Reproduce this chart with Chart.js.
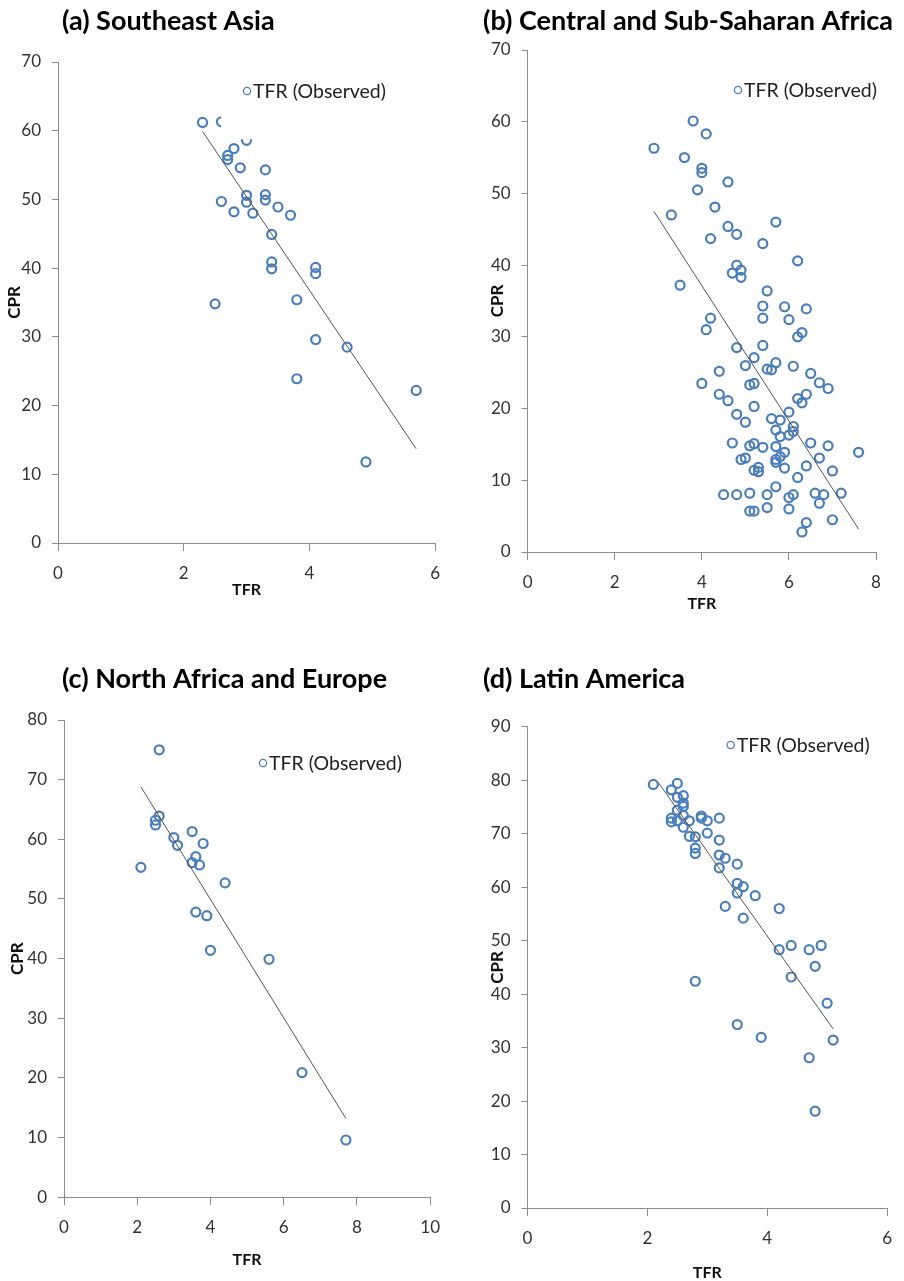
<!DOCTYPE html>
<html>
<head>
<meta charset="utf-8">
<script src="https://cdn.jsdelivr.net/npm/chart.js@4.4.1/dist/chart.umd.min.js"></script>
<style>
  html, body { margin: 0; padding: 0; background: #fff; }
  .panel { position: absolute; }
</style>
</head>
<body>
<div class="panel" style="left:0;top:0"><canvas id="c-a" width="452" height="640"></canvas></div>
<div class="panel" style="left:452px;top:0"><canvas id="c-b" width="452" height="640"></canvas></div>
<div class="panel" style="left:0;top:640px"><canvas id="c-c" width="452" height="641"></canvas></div>
<div class="panel" style="left:452px;top:640px"><canvas id="c-d" width="452" height="641"></canvas></div>
<script>
// (a) Southeast Asia
const seaTFR = [2.3,2.6,3.0,2.7,2.7,2.8,2.9,3.3,3.0,3.0,2.6,2.8,3.1,3.3,3.3,3.5,3.7,3.4,3.4,3.4,4.1,4.1,2.5,3.8,4.1,4.6,3.8,5.7,4.9];
const seaCPR = [61.2,61.3,58.6,56.4,55.8,57.4,54.6,54.3,50.6,49.6,49.7,48.2,48.0,50.7,49.9,48.9,47.7,44.9,40.9,39.9,40.1,39.2,34.8,35.4,29.6,28.5,23.9,22.2,11.8];
const seaFitTFR = [2.3, 5.7];
const seaFitCPR = [59.9, 13.7];

// (b) Central and Sub-Saharan Africa
const afrTFR = [2.9,3.8,4.1,3.6,4.0,4.0,3.9,4.6,3.3,4.3,4.6,4.8,5.7,4.2,5.4,6.2,4.8,4.7,4.9,4.9,
  3.5,5.5,5.4,5.9,6.4,5.4,6.0,4.2,4.1,6.2,6.3,4.8,5.4,5.2,5.0,5.7,5.5,5.6,6.1,6.5,
  4.4,6.7,6.9,4.0,5.1,5.2,4.4,4.6,6.2,6.3,6.4,5.2,4.8,5.0,6.0,5.6,5.8,5.7,6.1,6.1,
  6.0,5.8,4.7,5.1,5.2,5.4,5.7,6.5,6.9,7.6,4.9,5.0,5.7,5.7,5.8,5.9,6.7,5.2,5.3,5.3,
  5.9,6.4,7.0,6.2,5.7,4.5,4.8,5.1,5.5,6.0,6.1,6.6,6.8,6.7,7.2,5.1,5.2,5.5,6.0,7.0,6.4,6.3];
const afrCPR = [56.3,60.1,58.3,55.0,53.5,52.9,50.5,51.6,47.0,48.1,45.4,44.3,46.0,43.7,43.0,40.6,40.0,38.9,39.3,38.3,
  37.2,36.4,34.3,34.2,33.9,32.6,32.4,32.6,31.0,30.0,30.6,28.5,28.8,27.1,26.0,26.4,25.5,25.4,25.9,24.9,
  25.2,23.6,22.8,23.5,23.3,23.5,22.0,21.1,21.4,20.8,22.0,20.3,19.2,18.1,19.5,18.6,18.4,17.0,17.5,16.8,
  16.3,16.1,15.2,14.8,15.1,14.6,14.7,15.2,14.8,13.9,12.9,13.1,12.5,12.9,13.3,13.9,13.1,11.4,11.8,11.2,
  11.7,12.0,11.3,10.4,9.1,8.0,8.0,8.2,8.0,7.6,8.0,8.2,8.0,6.8,8.2,5.7,5.7,6.2,6.0,4.5,4.1,2.8];
const afrFitTFR = [2.9, 7.6];
const afrFitCPR = [47.5, 3.2];

// (c) North Africa and Europe
const eurTFR = [2.6,2.1,2.5,2.5,2.6,3.0,3.1,3.5,3.8,3.6,3.5,3.7,4.4,3.6,3.9,4.0,5.6,6.5,7.7];
const eurCPR = [75.0,55.3,63.2,62.4,63.9,60.3,59.0,61.3,59.3,57.1,56.1,55.7,52.7,47.8,47.2,41.4,39.9,20.9,9.6];
const eurFitTFR = [2.1, 7.7];
const eurFitCPR = [68.8, 13.2];

// (d) Latin America
const latTFR = [2.1,2.4,2.5,2.5,2.6,2.6,2.6,2.5,2.4,2.4,2.5,2.6,2.6,2.7,2.9,2.9,3.0,3.2,2.7,2.8,
  3.0,2.8,2.8,3.2,3.2,3.3,3.2,3.5,3.5,3.5,3.6,3.6,3.3,3.8,4.2,4.2,4.4,4.7,4.9,4.8,
  4.4,2.8,5.0,3.5,3.9,5.1,4.7,4.8];
const latCPR = [79.2,78.2,79.4,76.8,77.1,75.7,75.1,74.4,72.9,72.2,72.4,73.4,71.2,72.4,73.3,72.9,72.4,72.9,69.5,69.4,
  70.1,67.3,66.3,68.8,66.0,65.4,63.6,64.3,60.7,58.9,60.1,54.2,56.4,58.4,56.0,48.3,49.1,48.3,49.1,45.2,
  43.2,42.4,38.3,34.3,31.9,31.4,28.1,18.1];
const latFitTFR = [2.18, 5.1];
const latFitCPR = [79.6, 33.5];

const BLUE = '#4A7EBB';
const AXIS = '#8c8c8c';
Chart.defaults.font.family = 'Lato, "DejaVu Sans", sans-serif';

function pts(xs, ys){ return xs.map((x,i)=>({x:x, y:ys[i]})); }

// title + legend drawn by hand (the Excel legend box hides a couple of points)
const panelPlugin = {
  id:'panel',
  afterDraw(chart, args, o){
    const ctx = chart.ctx;
    ctx.save();
    if(o.cover){ ctx.fillStyle='#fff'; ctx.fillRect(o.cover[0],o.cover[1],o.cover[2],o.cover[3]); }
    ctx.strokeStyle = BLUE; ctx.lineWidth = 1.3;
    ctx.beginPath(); ctx.arc(o.leg[0], o.leg[1], 3.6, 0, Math.PI*2); ctx.stroke();
    ctx.fillStyle = '#222'; ctx.font = '19.5px Lato'; ctx.textBaseline = 'middle';
    ctx.fillText(chart.data.datasets[0].label, o.leg[0]+6, o.leg[1]+1);
    ctx.fillStyle = '#000'; ctx.font = 'bold 27px Lato'; ctx.textBaseline = 'alphabetic';
    ctx.fillText(o.title, o.tx, o.ty);
    ctx.restore();
  }
};

function makeChart(p){
  const L=p.plot[0], T=p.plot[1], R=p.plot[2], B=p.plot[3];
  const tickFont = {size:17};
  new Chart(document.getElementById(p.id), {
    type:'scatter',
    data:{datasets:[
      {label:'TFR (Observed)', data:pts(p.tfr,p.cpr), pointStyle:'circle', pointRadius:4.5, pointHoverRadius:4.5,
       pointBorderWidth:2.2, borderColor:BLUE, backgroundColor:'rgba(0,0,0,0)', order:2},
      {type:'line', label:'fit', data:pts(p.fitX,p.fitY), borderColor:'#555', borderWidth:1,
       pointRadius:0, fill:false, order:1}
    ]},
    options:{
      responsive:false, animation:false, events:[],
      layout:{padding:{left:0, top:T, right:p.w-R, bottom:0}},
      plugins:{legend:{display:false}, tooltip:{enabled:false},
        panel:{title:p.title, tx:p.tx, ty:p.ty, leg:p.leg, cover:p.cover}},
      scales:{
        x:{type:'linear', min:0, max:p.xMax,
          ticks:{stepSize:2, padding:12, color:'#333', font:tickFont, autoSkip:false},
          grid:{drawOnChartArea:false, drawTicks:true, tickLength:8, color:AXIS},
          border:{color:AXIS, width:1},
          title:{display:true, text:'TFR', color:'#111', font:{size:16, weight:'bold'},
            padding:{top:0, bottom:p.h-p.tfrY-9.6}},
          afterFit:s=>{ s.height = p.h - B; }},
        y:{type:'linear', min:0, max:p.yMax,
          ticks:{stepSize:10, padding:11, color:'#333', font:tickFont, autoSkip:false},
          grid:{drawOnChartArea:false, drawTicks:true, tickLength:6, color:AXIS},
          border:{color:AXIS, width:1},
          title:{display:true, text:'CPR', color:'#111', font:{size:17, weight:'bold'},
            padding:{top:p.cprX-10.2, bottom:0}},
          afterFit:s=>{ s.width = L; }}
      }
    },
    plugins:[panelPlugin]
  });
}

makeChart({id:'c-a', title:'(a) Southeast Asia', tx:62, ty:30, w:452, h:640,
  plot:[58,62,444,543], cprX:15, tfrY:590, xMax:6, yMax:70, leg:[247,91], cover:[221,62,165,77.3],
  tfr:seaTFR, cpr:seaCPR, fitX:seaFitTFR, fitY:seaFitCPR});
makeChart({id:'c-b', title:'(b) Central and Sub-Saharan Africa', tx:31, ty:30, w:452, h:640,
  plot:[75.7,50,424,552], cprX:46, tfrY:604, xMax:8, yMax:70, leg:[286,90],
  tfr:afrTFR, cpr:afrCPR, fitX:afrFitTFR, fitY:afrFitCPR});
makeChart({id:'c-c', title:'(c) North Africa and Europe', tx:62, ty:48, w:452, h:641,
  plot:[64,80,434,557.3], cprX:18, tfrY:620, xMax:10, yMax:80, leg:[263,123],
  tfr:eurTFR, cpr:eurCPR, fitX:eurFitTFR, fitY:eurFitCPR});
makeChart({id:'c-d', title:'(d) Latin America', tx:31, ty:48, w:452, h:641,
  plot:[75.5,86.7,443.7,568], cprX:46, tfrY:633, xMax:6, yMax:90, leg:[278.7,105],
  tfr:latTFR, cpr:latCPR, fitX:latFitTFR, fitY:latFitCPR});
</script>
</body>
</html>
